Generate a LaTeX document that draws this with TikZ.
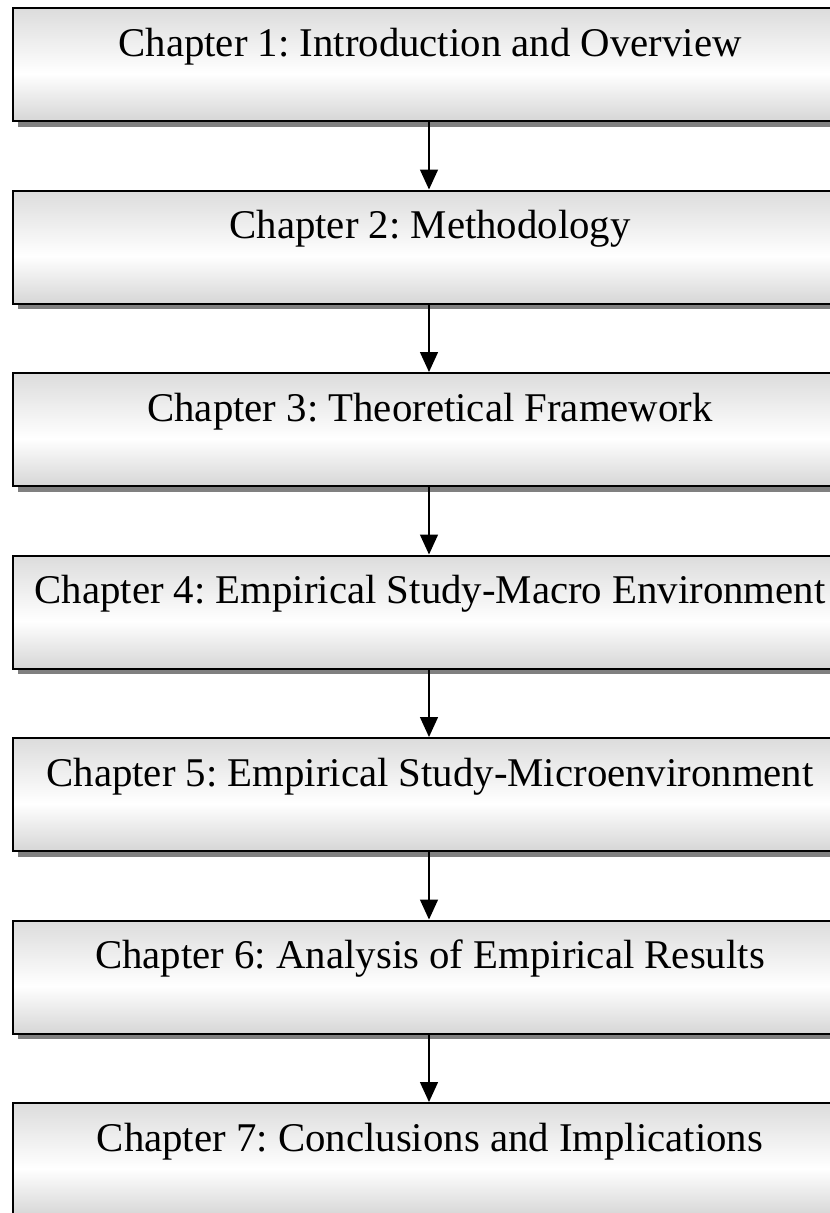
\documentclass[tikz,border=0pt]{standalone}
\usepackage{fontspec}
\setmainfont{Liberation Serif}
\usetikzlibrary{arrows.meta,shadows}
\frenchspacing

\definecolor{boxtop}{RGB}{220,220,220}
\definecolor{boxbot}{RGB}{214,214,214}
\definecolor{shadowgray}{RGB}{128,128,128}
\pgfdeclareverticalshading{chapshade}{100bp}{%
  color(0bp)=(boxbot); color(25bp)=(boxbot); color(46bp)=(white);
  color(75bp)=(boxtop); color(100bp)=(boxtop)}

\tikzset{
  chapbox/.style={
    rectangle, draw=black, line width=2pt, shading=chapshade,
    minimum width=834pt, align=center,
    inner sep=0pt, text height=48pt, text depth=65pt,
    font=\fontsize{40.8}{48}\selectfont,
    drop shadow={shadow xshift=5pt, shadow yshift=-5.5pt,
      fill=shadowgray, opacity=1}},
  flow/.style={-{Triangle[width=18pt,length=20pt]}, line width=1.4pt, black}
}

\begin{document}
\begin{tikzpicture}[x=1pt,y=-1pt]
  \useasboundingbox (0,0) rectangle (830,1213);
  \fill[white] (0,0) rectangle (830,1213);

  \node[chapbox, anchor=north west] (c1) at (12,7)      {Chapter 1: Introduction and Overview};
  \node[chapbox, anchor=north west] (c2) at (12,189.5)  {Chapter 2: Methodology};
  \node[chapbox, anchor=north west] (c3) at (12,372)    {Chapter 3: Theoretical Framework};
  \node[chapbox, anchor=north west] (c4) at (12,554.5)  {Chapter 4: Empirical Study-Macro Environment};
  \node[chapbox, anchor=north west] (c5) at (12,737)    {Chapter 5: Empirical Study-Microenvironment};
  \node[chapbox, anchor=north west] (c6) at (12,919.5)  {Chapter 6: Analysis of Empirical Results};
  \node[chapbox, anchor=north west] (c7) at (12,1102)   {Chapter 7: Conclusions and Implications};

  \foreach \a/\b in {c1/c2,c2/c3,c3/c4,c4/c5,c5/c6,c6/c7}{
    \draw[flow] ([xshift=-1pt]\a.south) -- ([xshift=-1pt]\b.north);
  }
\end{tikzpicture}
\end{document}
